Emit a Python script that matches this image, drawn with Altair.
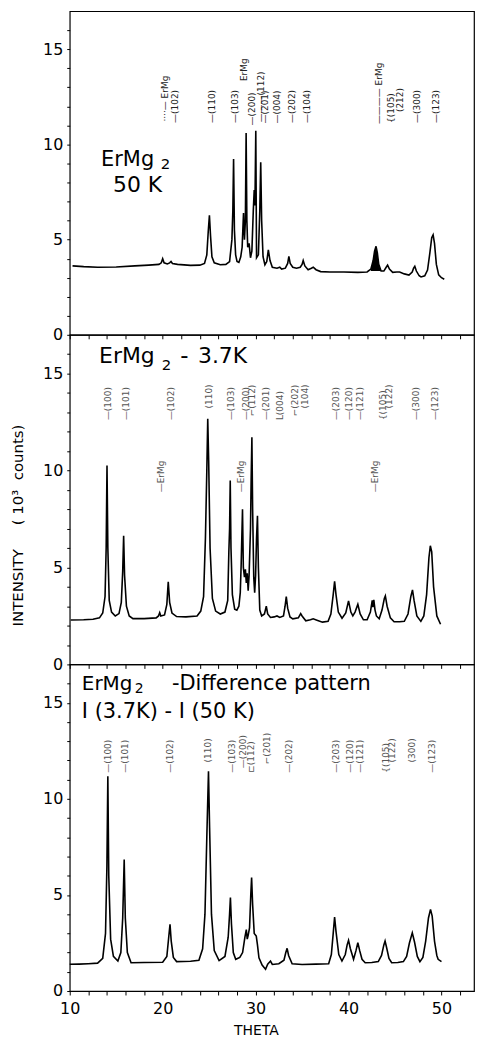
import altair as alt
import pandas as pd

FONT = "DejaVu Sans"
NB = "\u00a0"

# ---------------- top panel: ErMg2 50 K ----------------
theta_50k = [10.3, 11.5, 13.0, 15.0, 17.0, 18.5, 19.6, 19.85, 20.0, 20.15, 20.5, 20.75, 20.9, 21.05,
             21.6, 23.0, 24.0, 24.5, 24.75, 24.9, 25.03, 25.15, 25.3, 25.55, 26.2, 26.8, 27.2,
             27.45, 27.55, 27.63, 27.72, 27.85, 28.0, 28.2, 28.4, 28.55, 28.7, 28.8, 28.9, 28.98,
             29.06, 29.15, 29.3, 29.45, 29.6, 29.75, 29.85, 29.93, 30.02, 30.1, 30.3, 30.45, 30.55,
             30.65, 30.8, 31.0, 31.2, 31.37, 31.55, 31.8, 32.3, 32.6, 32.8, 33.2, 33.45, 33.58,
             33.72, 34.0, 34.4, 34.8, 35.0, 35.12, 35.3, 35.65, 36.0, 36.2, 36.5, 37.0, 38.0, 39.5,
             41.0, 42.0, 42.4, 42.65, 42.8, 42.96, 43.1, 43.25, 43.5, 43.8, 44.05, 44.2, 44.4,
             44.75, 45.2, 45.5, 46.0, 46.5, 46.85, 47.0, 47.13, 47.3, 47.6, 47.8, 48.2, 48.5,
             48.75, 48.95, 49.1, 49.25, 49.45, 49.7, 50.0, 50.3]
int_50k = [3.62, 3.58, 3.55, 3.56, 3.62, 3.66, 3.7, 3.78, 4.0, 3.78, 3.72, 3.78, 3.85, 3.75,
           3.7, 3.65, 3.66, 3.75, 4.2, 5.4, 6.28, 5.2, 4.1, 3.78, 3.68, 3.7, 3.85,
           5.0, 6.5, 9.23, 5.5, 4.2, 3.85, 3.8, 4.1, 4.6, 6.4, 5.0, 6.0, 10.6,
           6.0, 4.6, 4.8, 4.05, 4.4, 6.5, 7.6, 6.8, 10.72, 4.05, 4.2, 6.5, 9.06,
           6.0, 4.1, 3.68, 3.85, 4.46, 3.9, 3.55, 3.5, 3.55, 3.45, 3.5, 3.75, 4.12,
           3.75, 3.55, 3.5, 3.55, 3.7, 3.9, 3.62, 3.42, 3.5, 3.55, 3.42, 3.32, 3.3, 3.3,
           3.28, 3.3, 3.45, 3.9, 4.4, 4.65, 4.3, 3.7, 3.35, 3.35, 3.55, 3.66, 3.45,
           3.28, 3.3, 3.3, 3.2, 3.14, 3.3, 3.5, 3.6, 3.35, 3.1, 3.04, 3.1, 3.4,
           4.3, 5.1, 5.25, 4.8, 3.7, 3.15, 3.0, 2.92]

lab50_theta = [20.2, 21.28, 25.3, 27.8, 28.8, 29.66, 30.6, 31.0, 32.3, 33.9, 35.5, 43.3, 44.6, 45.5, 47.4, 49.4]
lab50_val = [11.2, 11.13, 11.13, 11.13, 13.33, 11.0, 11.16, 11.1, 11.1, 11.13, 11.13, 11.07, 11.13, 11.7, 11.13, 11.13]
lab50_text = ["····— ErMg", "—(102)", "—(110)", "—(103)", "ErMg", "—(200)", "———(112)", "—(201)",
              "—(004)", "—(202)", "—(104)", "———— ErMg", "{(105)", "(212)", "—(300)", "—(123)"]

# ---------------- middle panel: ErMg2 3.7 K ----------------
theta_37k = [10.1, 11.5, 12.5, 13.2, 13.55, 13.8, 13.92, 14.01, 14.1, 14.25, 14.5, 14.9, 15.3, 15.55,
             15.7, 15.8, 15.9, 16.1, 16.4, 16.8, 18.0, 19.3, 19.55, 19.68, 19.8, 20.2, 20.45, 20.6,
             20.75, 21.0, 21.5, 22.5, 23.7, 24.1, 24.4, 24.6, 24.75, 24.85, 24.95, 25.1, 25.35,
             25.7, 26.2, 26.7, 27.0, 27.12, 27.2, 27.27, 27.35, 27.5, 27.75, 27.98, 28.2, 28.35,
             28.45, 28.59, 28.68, 28.8, 28.9, 29.0, 29.1, 29.2, 29.3, 29.45, 29.52, 29.6, 29.68,
             29.8, 29.9, 30.0, 30.1, 30.2, 30.3, 30.45, 30.65, 30.95, 31.15, 31.3, 31.6, 32.0,
             32.3, 32.6, 33.0, 33.17, 33.3, 33.45, 33.7, 34.0, 34.6, 34.85, 35.0, 35.4, 35.9,
             36.2, 36.6, 37.2, 37.8, 38.1, 38.35, 38.5, 38.65, 38.9, 39.3, 39.7, 40.0, 40.25,
             40.46, 40.7, 41.0, 41.25, 41.6, 42.0, 42.35, 42.55, 42.62, 42.72, 42.85, 43.0, 43.3,
             43.6, 43.85, 43.96, 44.15, 44.5, 44.9, 45.5, 46.0, 46.4, 46.7, 46.88, 47.05, 47.35,
             47.78, 48.1, 48.4, 48.65, 48.8, 48.95, 49.15, 49.5, 49.9]
int_37k = [2.29, 2.3, 2.33, 2.4, 2.65, 3.5, 6.0, 10.26, 6.0, 3.3, 2.7, 2.5, 2.62, 3.2,
           4.8, 6.64, 4.6, 3.0, 2.5, 2.36, 2.36, 2.4, 2.5, 2.67, 2.5, 2.55, 3.1, 4.26,
           3.2, 2.65, 2.47, 2.45, 2.5, 2.75, 3.5, 6.5, 10.0, 12.67, 10.5, 6.0, 3.4,
           2.75, 2.6, 2.7, 3.3, 5.8, 7.0, 9.48, 6.0, 3.6, 2.85, 2.8, 3.0, 3.7,
           5.2, 8.0, 5.0, 4.5, 4.9, 4.2, 4.7, 3.8, 4.6, 7.0, 9.5, 11.72, 8.0,
           4.5, 3.7, 4.6, 6.5, 7.67, 5.0, 2.8, 2.5, 2.6, 3.0, 2.6, 2.42, 2.45,
           2.5, 2.42, 2.5, 3.0, 3.5, 2.9, 2.45, 2.35, 2.4, 2.62, 2.5, 2.25, 2.3,
           2.35, 2.28, 2.18, 2.22, 2.6, 3.6, 4.28, 3.6, 2.7, 2.38, 2.65, 3.28, 2.7,
           2.5, 2.7, 3.1, 2.6, 2.3, 2.3, 2.7, 3.3, 2.95, 3.33, 2.8, 2.5, 2.35,
           2.8, 3.4, 3.53, 3.0, 2.4, 2.2, 2.2, 2.22, 2.6, 3.5, 3.84, 3.3, 2.5,
           2.22, 2.5, 3.6, 5.5, 6.12, 5.8, 4.0, 2.5, 2.07]

lab37_theta = [14.15, 16.04, 20.86, 24.96, 27.4, 29.0, 29.66, 31.1, 32.6, 34.2, 35.3, 38.6, 40.05, 41.2,
               43.75, 44.4, 47.3, 49.3, 19.79, 28.41, 42.85]
lab37_val = [12.6, 12.6, 12.6, 13.2, 12.6, 12.6, 12.8, 12.6, 12.6, 12.8, 13.2, 12.6, 12.6, 12.6,
             12.6, 13.2, 12.6, 12.6, 8.88, 8.88, 8.88]
lab37_text = ["—(100)", "—(101)", "—(102)", "(110)", "—(103)", "—(200)", "⌐(112)", "—(201)", "L(004)",
              "⌐(202)", "(104)", "—(203)", "—(120)", "—(121)", "{(105)", "(122)", "—(300)", "—(123)",
              "—ErMg", "—ErMg", "—ErMg"]

# ---------------- bottom panel: difference pattern ----------------
theta_diff = [10.0, 11.0, 12.0, 13.0, 13.55, 13.85, 14.0, 14.1, 14.2, 14.4, 14.7, 15.18, 15.5, 15.7,
              15.86, 15.98, 16.2, 16.6, 18.0, 20.0, 20.45, 20.65, 20.79, 20.92, 21.15, 21.5, 23.0,
              23.9, 24.3, 24.55, 24.75, 24.93, 25.05, 25.25, 25.55, 26.07, 26.7, 27.05, 27.2, 27.29,
              27.4, 27.6, 27.86, 28.3, 28.6, 28.85, 29.0, 29.1, 29.2, 29.35, 29.48, 29.57, 29.68,
              29.85, 30.07, 30.2, 30.36, 30.7, 31.07, 31.3, 31.6, 31.8, 32.5, 33.05, 33.25, 33.39,
              33.55, 33.93, 35.0, 36.5, 37.86, 38.15, 38.35, 38.5, 38.65, 38.95, 39.29, 39.65, 39.85,
              40.0, 40.2, 40.54, 40.8, 41.0, 41.2, 41.45, 41.79, 42.5, 43.2, 43.55, 43.8, 43.93,
              44.1, 44.35, 44.64, 45.3, 45.9, 46.25, 46.55, 46.86, 47.1, 47.4, 47.68, 48.0, 48.3,
              48.6, 48.82, 49.0, 49.25, 49.5, 49.64, 50.0]
int_diff = [1.39, 1.4, 1.42, 1.45, 1.7, 3.0, 6.5, 11.18, 6.0, 2.7, 1.8, 1.56, 2.0, 3.8,
            6.85, 3.8, 2.0, 1.47, 1.48, 1.5, 1.8, 2.8, 3.47, 2.6, 1.75, 1.53, 1.55,
            1.6, 2.2, 4.0, 8.0, 11.44, 8.5, 4.0, 2.1, 1.58, 1.8, 2.8, 4.0, 4.86,
            3.5, 2.0, 1.65, 1.75, 2.0, 2.8, 3.2, 2.7, 2.9, 3.3, 5.0, 5.9, 4.5,
            3.0, 2.86, 2.4, 1.73, 1.35, 1.13, 1.4, 1.56, 1.38, 1.42, 1.6, 2.0, 2.22,
            1.85, 1.42, 1.38, 1.4, 1.42, 1.9, 3.0, 3.85, 3.1, 1.9, 1.56, 1.9, 2.4,
            2.64, 2.2, 1.65, 2.1, 2.51, 2.1, 1.65, 1.47, 1.48, 1.53, 1.85, 2.4, 2.6,
            2.25, 1.7, 1.47, 1.48, 1.53, 1.8, 2.5, 3.03, 2.55, 1.8, 1.53, 1.75, 2.6,
            3.8, 4.25, 3.9, 2.6, 1.85, 1.65, 1.53]

labd_theta = [14.1, 16.0, 20.82, 24.93, 27.43, 28.68, 29.46, 31.25, 33.57, 38.68, 40.18, 41.25, 44.0, 44.71, 46.86, 48.93]
labd_val = [11.36, 11.36, 11.36, 11.9, 11.36, 11.6, 11.36, 11.8, 11.36, 11.36, 11.36, 11.36, 11.36, 11.9, 11.9, 11.36]
labd_text = ["—(100)", "—(101)", "—(102)", "(110)", "—(103)", "—(200)", "⊏(112)", "⌐(201)", "—(202)",
             "—(203)", "—(120)", "—(121)", "{(105)", "(122)", "(300)", "—(123)"]

# panel captions (theta of left edge, intensity, text, font size)
cap50 = {"theta": [13.37, 19.8, 14.65], "I": [9.17, 8.95, 7.86], "text": ["ErMg", "2", "50 K"], "fs": [21, 15, 22]}
cap37 = {"theta": [13.16, 19.9, 21.9, 23.8], "I": [15.93, 15.45, 15.93, 15.93],
         "text": ["ErMg", "2", "-", "3.7K"], "fs": [22, 15, 23, 22]}
capd = {"theta": [11.3, 17.0, 21.0, 11.3], "I": [15.98, 15.7, 15.98, 14.5],
        "text": ["ErMg", "2", "-Difference pattern", "I (3.7K) - I (50 K)"], "fs": [20, 14, 21, 21]}

XDOM = [10, 53.5]
YDOM = [0, 17]
X_TICKS = list(range(10, 54, 2))
Y_TICKS = list(range(0, 17))


def panel(theta, inten, lt, lv, ltext, cap, height, bottom=False, ytitle=False, lab_color="#444",
          fill_range=None):
    df = pd.DataFrame({"theta": theta, "I": inten})
    if bottom:
        xaxis = alt.Axis(values=X_TICKS,
                         labelExpr="datum.value % 10 == 0 ? datum.label : ''",
                         labelOverlap=False, labelFlush=False,
                         labelFont=FONT, labelFontSize=16, labelColor="black", labelPadding=6,
                         tickSize=4, tickColor="black", domain=False, grid=False,
                         title="THETA", titleFont=FONT, titleFontSize=14, titleFontWeight="normal",
                         titleColor="black", titlePadding=7, titleX=187)
    else:
        xaxis = alt.Axis(values=X_TICKS, labels=False, tickSize=4, tickColor="black",
                         domain=False, grid=False, title=None)
    yargs = dict(values=Y_TICKS,
                 labelExpr="datum.value % 5 == 0 ? datum.label : ''",
                 labelOverlap=False, labelFlush=False,
                 labelFont=FONT, labelFontSize=16, labelColor="black", labelPadding=4,
                 tickSize=3, tickColor="black", domain=False, grid=False)
    if ytitle:
        ttl = "INTENSITY" + NB * 5 + "(" + NB + "10³" + NB + NB + "counts)"
        yaxis = alt.Axis(title=ttl, titleFont=FONT, titleFontSize=15,
                         titleFontWeight="normal", titleColor="black", titleX=-52, titleY=191,
                         titleAngle=270, titleAlign="center", titleBaseline="middle", **yargs)
    else:
        yaxis = alt.Axis(title=None, **yargs)

    x = alt.X("theta:Q", scale=alt.Scale(domain=XDOM, nice=False, zero=False), axis=xaxis)
    y = alt.Y("I:Q", scale=alt.Scale(domain=YDOM, nice=False, zero=False), axis=yaxis)

    layers = [alt.Chart(df).mark_line(color="black", strokeWidth=1.6).encode(x=x, y=y)]
    if fill_range is not None:
        sub = df[(df.theta >= fill_range[0]) & (df.theta <= fill_range[1])]
        layers.append(alt.Chart(sub).mark_area(color="black").encode(
            x=x, y=y, y2=alt.datum(fill_range[2])))
    ldf = pd.DataFrame({"theta": lt, "I": lv, "text": ltext})
    layers.append(alt.Chart(ldf).mark_text(angle=270, align="left", baseline="middle", font=FONT,
                                           fontSize=9, color=lab_color).encode(
        x=x, y=y, text="text:N"))
    cdf = pd.DataFrame(cap)
    layers.append(alt.Chart(cdf).mark_text(align="left", baseline="middle", font=FONT,
                                           color="black").encode(
        x=x, y=y, text="text:N", size=alt.Size("fs:Q", scale=None)))
    return alt.layer(*layers).properties(width=406, height=height)


top = panel(theta_50k, int_50k, lab50_theta, lab50_val, lab50_text, cap50, 325,
            lab_color="#222", fill_range=(42.4, 43.5, 3.35))
mid = panel(theta_37k, int_37k, lab37_theta, lab37_val, lab37_text, cap37, 331, ytitle=True,
            lab_color="#555")
bot = panel(theta_diff, int_diff, labd_theta, labd_val, labd_text, capd, 328, bottom=True,
            lab_color="#555")

chart = alt.vconcat(top, mid, bot, spacing=0, bounds="flush").properties(
    padding={"left": 2, "top": 0, "right": 0, "bottom": 0}, background="white"
).configure_view(stroke="black", strokeWidth=1.2).configure_axis(labelOverlap=False)

chart.save("out.html", embed_options={"renderer": "svg", "actions": False})
